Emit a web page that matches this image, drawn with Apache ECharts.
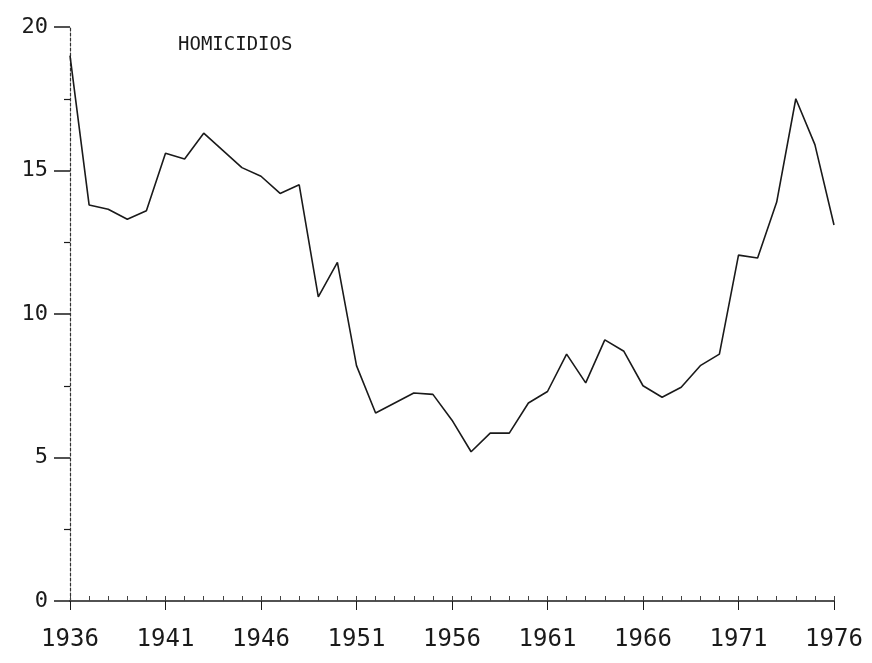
<!DOCTYPE html>
<html>
<head>
<meta charset="utf-8">
<script src="https://cdn.jsdelivr.net/npm/echarts@6/dist/echarts.min.js"></script>
<style>html,body{margin:0;padding:0;background:#fff}#c{width:872px;height:663px}</style>
</head>
<body>
<div id="c"></div>
<script>
const years = [1936,1937,1938,1939,1940,1941,1942,1943,1944,1945,1946,1947,1948,1949,1950,1951,1952,1953,1954,1955,1956,1957,1958,1959,1960,1961,1962,1963,1964,1965,1966,1967,1968,1969,1970,1971,1972,1973,1974,1975,1976];
const homicidios = [19.0,13.8,13.65,13.3,13.6,15.6,15.4,16.3,15.7,15.1,14.8,14.2,14.5,10.6,11.8,8.2,6.55,6.9,7.25,7.2,6.3,5.2,5.85,5.85,6.9,7.3,8.6,7.6,9.1,8.7,7.5,7.1,7.45,8.2,8.6,12.05,11.95,13.9,17.5,15.9,13.1];
const titleText = 'HOMICIDIOS';

const chart = echarts.init(document.getElementById('c'), null, {renderer:'canvas'});
const ink = '#1a1a1a';
const font = 'DejaVu Sans Mono';
chart.setOption({
  animation:false,
  backgroundColor:'#ffffff',
  title:{text:titleText,left:173,top:31,textStyle:{fontFamily:font,fontWeight:'normal',fontSize:19,color:ink}},
  grid:{left:70,right:38,top:27,bottom:62,containLabel:false},
  xAxis:[{
    type:'value',min:1936,max:1976,interval:5,
    axisLine:{show:true,lineStyle:{color:ink,width:1.5}},
    axisTick:{show:true,inside:false,length:9,lineStyle:{color:ink,width:1}},
    axisLabel:{fontFamily:font,fontSize:24,color:ink,margin:27,formatter:v=>String(v)},
    splitLine:{show:false}
  },{
    type:'value',min:1936,max:1976,interval:1,position:'bottom',
    axisLine:{show:false},
    axisTick:{show:true,inside:true,length:5,lineStyle:{color:'#444',width:1}},
    axisLabel:{show:false},splitLine:{show:false}
  }],
  yAxis:{
    type:'value',min:0,max:20,interval:5,
    axisLine:{show:true,lineStyle:{color:'#333',width:1.2,type:[3,2]}},
    axisTick:{show:true,length:16,lineStyle:{color:ink,width:1.5}},
    minorTick:{show:true,splitNumber:2,length:6,lineStyle:{color:ink,width:1.2}},
    axisLabel:{fontFamily:font,fontSize:22,color:ink,margin:22},
    splitLine:{show:false}
  },
  series:[{
    type:'line',
    data:years.map((y,i)=>[y,homicidios[i]]),
    symbol:'none',
    lineStyle:{color:ink,width:1.6},
    xAxisIndex:0
  }]
});
</script>
</body>
</html>
